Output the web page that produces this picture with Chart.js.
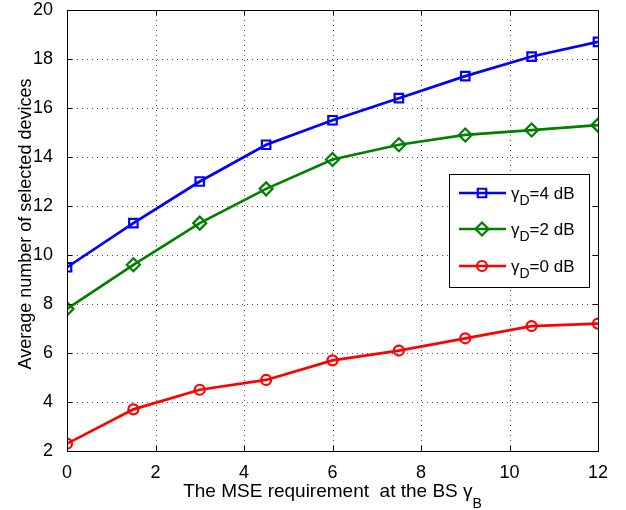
<!DOCTYPE html>
<html>
<head>
<meta charset="utf-8">
<script src="https://cdn.jsdelivr.net/npm/chart.js@4.4.1/dist/chart.umd.min.js"></script>
<style>
  body { margin: 0; background: #fff; }
  #wrap { width: 626px; height: 510px; }
</style>
</head>
<body>
<div id="wrap"><canvas id="c" width="626" height="510"></canvas></div>
<script>
// x values: MSE requirement at the BS (dB)
const gammaB = [0, 1.5, 3, 4.5, 6, 7.5, 9, 10.5, 12];

// average number of selected devices, one list per gamma_D
const devices4dB = [9.5, 11.3, 13.0, 14.5, 15.5, 16.4, 17.3, 18.1, 18.7];
const devices2dB = [7.8, 9.6, 11.3, 12.7, 13.9, 14.5, 14.9, 15.1, 15.3];
const devices0dB = [2.3, 3.7, 4.5, 4.9, 5.7, 6.1, 6.6, 7.1, 7.2];

const seriesNames = ["4", "2", "0"];
const xTicks = [0, 2, 4, 6, 8, 10, 12];
const yTicks = [2, 4, 6, 8, 10, 12, 14, 16, 18, 20];

const FONT = "'Liberation Sans', Arial, sans-serif";

function pts(ys) {
    return gammaB.map((x, i) => ({ x: x, y: ys[i] }));
}

// dotted grid under the lines
const dottedGrid = {
    id: "dottedGrid",
    beforeDatasetsDraw(chart) {
        const ctx = chart.ctx;
        const a = chart.chartArea;
        const xs = chart.scales.x, ys = chart.scales.y;
        ctx.save();
        ctx.strokeStyle = "#555";
        ctx.lineWidth = 1;
        ctx.setLineDash([1, 4]);
        ctx.beginPath();
        xTicks.slice(1, -1).forEach(t => {
            const px = Math.round(xs.getPixelForValue(t)) + 0.5;
            ctx.moveTo(px, a.bottom); ctx.lineTo(px, a.top);
        });
        yTicks.slice(1, -1).forEach(t => {
            const py = Math.round(ys.getPixelForValue(t)) + 0.5;
            ctx.moveTo(a.left, py); ctx.lineTo(a.right, py);
        });
        ctx.stroke();
        ctx.restore();
    }
};

// draws the box, inward ticks, axis titles and the legend like matlab does
const matlabStyle = {
    id: "matlabStyle",
    afterDraw(chart) {
        const ctx = chart.ctx;
        const a = chart.chartArea;
        const xs = chart.scales.x, ys = chart.scales.y;
        ctx.save();

        // frame
        ctx.strokeStyle = "#000";
        ctx.lineWidth = 1;
        ctx.strokeRect(a.left + 0.5, a.top + 0.5, a.right - a.left, a.bottom - a.top);

        // inward ticks
        ctx.beginPath();
        xTicks.forEach(t => {
            const px = Math.round(xs.getPixelForValue(t)) + 0.5;
            ctx.moveTo(px, a.bottom); ctx.lineTo(px, a.bottom - 5);
            ctx.moveTo(px, a.top); ctx.lineTo(px, a.top + 5);
        });
        yTicks.forEach(t => {
            const py = Math.round(ys.getPixelForValue(t)) + 0.5;
            ctx.moveTo(a.left, py); ctx.lineTo(a.left + 5, py);
            ctx.moveTo(a.right, py); ctx.lineTo(a.right - 5, py);
        });
        ctx.stroke();

        // axis titles
        ctx.fillStyle = "#000";
        ctx.textBaseline = "alphabetic";
        const xt = "The MSE requirement  at the BS \u03B3";
        ctx.font = "19px " + FONT;
        const w1 = ctx.measureText(xt).width;
        ctx.font = "14px " + FONT;
        const w2 = ctx.measureText("B").width;
        const sx = (a.left + a.right) / 2 - (w1 + w2) / 2;
        ctx.font = "19px " + FONT;
        ctx.textAlign = "left";
        ctx.fillText(xt, sx, 497);
        ctx.font = "14px " + FONT;
        ctx.fillText("B", sx + w1, 508);

        ctx.save();
        ctx.translate(31, 224);
        ctx.rotate(-Math.PI / 2);
        ctx.font = "18px " + FONT;
        ctx.textAlign = "center";
        ctx.fillText("Average number of selected devices", 0, 0);
        ctx.restore();

        // legend
        const lx = 449, ly = 174, lw = 140, lh = 113;
        ctx.fillStyle = "#fff";
        ctx.fillRect(lx, ly, lw, lh);
        ctx.strokeStyle = "#000";
        ctx.lineWidth = 1;
        ctx.strokeRect(lx + 0.5, ly + 0.5, lw, lh);
        const rows = [193, 229, 266];
        chart.data.datasets.forEach((ds, i) => {
            const y = rows[i];
            ctx.strokeStyle = ds.borderColor;
            ctx.lineWidth = 2.7;
            ctx.beginPath();
            ctx.moveTo(459, y); ctx.lineTo(506, y);
            ctx.stroke();
            ctx.fillStyle = "rgba(0,0,0,0)";
            ctx.lineWidth = 2.2;
            Chart.helpers.drawPoint(ctx, {
                pointStyle: ds.pointStyle, radius: ds.pointRadius, rotation: 0,
                borderWidth: 2.2
            }, 482, y);
            ctx.fillStyle = "#000";
            ctx.font = "17px " + FONT;
            ctx.textAlign = "left";
            ctx.fillText("\u03B3", 511, y + 6);
            const gw = ctx.measureText("\u03B3").width;
            ctx.font = "14px " + FONT;
            ctx.fillText("D", 511 + gw, y + 12);
            const dw = ctx.measureText("D").width;
            ctx.font = "17px " + FONT;
            ctx.fillText("=" + seriesNames[i] + " dB", 511 + gw + dw, y + 6);
        });
        ctx.restore();
    }
};

const datasets = [
    { data: pts(devices4dB), borderColor: "#0000ff", pointStyle: "rect", pointRadius: 6 },
    { data: pts(devices2dB), borderColor: "#008000", pointStyle: "rectRot", pointRadius: 6.5 },
    { data: pts(devices0dB), borderColor: "#ff0000", pointStyle: "circle", pointRadius: 5 }
].map(d => Object.assign(d, {
    borderWidth: 2.7,
    backgroundColor: "transparent",
    pointBorderColor: d.borderColor,
    pointBackgroundColor: "transparent",
    pointBorderWidth: 2.2,
    tension: 0
}));

new Chart(document.getElementById("c"), {
    type: "line",
    data: { datasets: datasets },
    options: {
        responsive: false,
        animation: false,
        layout: { padding: { top: 10, right: 28, left: 0, bottom: 0 } },
        plugins: { legend: { display: false }, tooltip: { enabled: false } },
        scales: {
            x: {
                type: "linear", min: 0, max: 12,
                afterBuildTicks: s => { s.ticks = xTicks.map(v => ({ value: v })); },
                afterFit: s => { s.height = 59; s.paddingLeft = 0; s.paddingRight = 0; },
                ticks: { color: "#000", font: { size: 18, family: FONT }, padding: 3, maxRotation: 0 },
                grid: { display: false },
                border: { display: false }
            },
            y: {
                type: "linear", min: 2, max: 20,
                afterBuildTicks: s => { s.ticks = yTicks.map(v => ({ value: v })); },
                afterFit: s => { s.width = 67; s.paddingTop = 0; s.paddingBottom = 0; },
                ticks: { color: "#000", font: { size: 18, family: FONT }, padding: 6 },
                grid: { display: false },
                border: { display: false }
            }
        }
    },
    plugins: [dottedGrid, matlabStyle]
});
</script>
</body>
</html>
